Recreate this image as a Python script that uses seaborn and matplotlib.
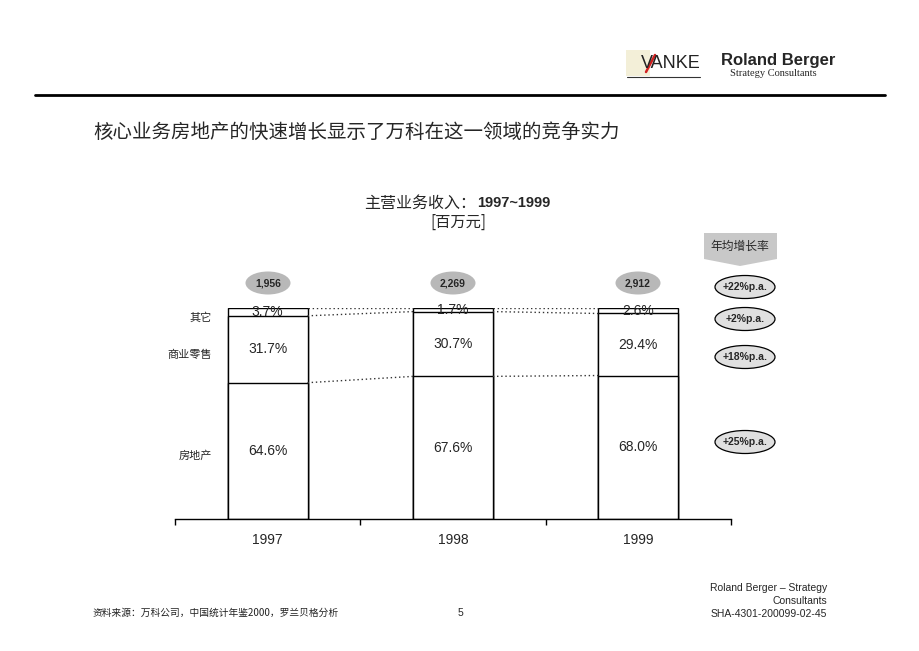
import matplotlib
matplotlib.use("Agg")
import matplotlib.pyplot as plt
import seaborn as sns
import numpy as np
import pandas as pd
from matplotlib.patches import Ellipse, Polygon, Rectangle

# ---------------- data ----------------
years = ["1997", "1998", "1999"]
totals = ["1,956", "2,269", "2,912"]
real_estate = [64.6, 67.6, 68.0]
retail = [31.7, 30.7, 29.4]
other = [3.7, 1.7, 2.6]
segment_names = ["房地产", "商业零售", "其它"]
growth_labels = ["+25%p.a.", "+18%p.a.", "+2%p.a.", "+22%p.a."]

sns.set_theme(style="white")
plt.rcParams["font.family"] = ["Liberation Sans", "Noto Sans CJK SC", "DejaVu Sans"]
CJK = ["Noto Sans CJK SC", "DejaVu Sans"]

W, H = 920, 651
fig = plt.figure(figsize=(9.2, 6.51), dpi=100)
fig.patch.set_facecolor("white")

# main axes (positions in pixels)
x0, x1, y_bot, y_top = 175, 731, 519, 308
ax = fig.add_axes([x0 / W, 1 - y_bot / H, (x1 - x0) / W, (y_bot - y_top) / H])
ax.set_facecolor("none")

df = pd.DataFrame({"year": years, "re": real_estate, "rt": retail, "ot": other})
df["c1"] = df["re"]
df["c2"] = df["re"] + df["rt"]
df["c3"] = df["c2"] + df["ot"]

bw = 0.43
for col in ["c3", "c2", "c1"]:
    sns.barplot(data=df, x="year", y=col, order=years, color="white",
                edgecolor="black", linewidth=1.0, width=bw, saturation=1,
                ax=ax, errorbar=None)

ax.set_xlim(-0.5, 2.5)
ax.set_ylim(0, 100)
for s in ["top", "right", "left"]:
    ax.spines[s].set_visible(False)
ax.spines["bottom"].set_color("black")
ax.spines["bottom"].set_linewidth(1.0)
ax.set_yticks([])
ax.set_xlabel("")
ax.set_ylabel("")
ax.set_xticks(range(len(years)))
ax.set_xticklabels(years, fontsize=10)
ax.set_xticks(np.arange(-0.5, len(years), 1.0), minor=True)
ax.tick_params(axis="x", which="major", length=0, pad=10)
ax.tick_params(axis="x", which="minor", length=4, width=1, direction="out",
               color="black", bottom=True)

# dotted connectors
for i in range(len(years) - 1):
    for col in ["c1", "c2", "c3"]:
        ax.plot([i + bw / 2, i + 1 - bw / 2], [df[col][i], df[col][i + 1]],
                linestyle=(0, (1, 2)), color="#333333", linewidth=1.0)

# percent labels
for i in range(len(years)):
    ax.text(i, df["re"][i] / 2, f"{real_estate[i]:.1f}%", ha="center", va="center", fontsize=10)
    ax.text(i, (df["c1"][i] + df["c2"][i]) / 2, f"{retail[i]:.1f}%", ha="center", va="center", fontsize=10)
    ax.text(i, (df["c2"][i] + df["c3"][i]) / 2, f"{other[i]:.1f}%", ha="center", va="center", fontsize=10)

# ------------- overlay axes in pixel coords -------------
ov = fig.add_axes([0, 0, 1, 1])
ov.set_xlim(0, W)
ov.set_ylim(H, 0)
ov.axis("off")
ov.set_facecolor("none")

# header rule
ov.plot([35, 885], [95, 95], color="black", linewidth=2)

# logos
ov.add_patch(Rectangle((626, 50), 24, 26, facecolor="#f3efd8", edgecolor="none"))
ov.text(671, 64, "VANKE", fontsize=13, ha="center", va="center", color="#222222",
        family=["Liberation Sans"])
ov.plot([646, 655], [72, 55], color="#d02020", linewidth=1.8)
ov.plot([627, 700], [77, 77], color="#333333", linewidth=0.8)
ov.text(778, 61, "Roland Berger", fontsize=12, fontweight="bold", ha="center", va="center",
        family=["Liberation Sans Narrow", "Liberation Sans"])
ov.text(773, 74, "Strategy Consultants", fontsize=7.5, ha="center", va="center",
        family=["Liberation Serif"])

# title
ov.text(93, 132, "核心业务房地产的快速增长显示了万科在这一领域的竞争实力", fontsize=14,
        ha="left", va="center", family=CJK)

# chart title
ov.text(476, 203, "主营业务收入：", fontsize=11.5, ha="right", va="center", family=CJK)
ov.text(477, 203, "1997~1999", fontsize=10.5, ha="left", va="center", fontweight="bold")
ov.text(458, 222, "[百万元]", fontsize=11, ha="center", va="center", family=CJK)

# total ellipses above bars
bar_px = [268, 453, 638]
for xc, t in zip(bar_px, totals):
    ov.add_patch(Ellipse((xc, 283), 45, 23, facecolor="#b8b8b8", edgecolor="none"))
    ov.text(xc, 283, t, fontsize=7.5, fontweight="bold", ha="center", va="center")

# segment names on the left
seg_y = [456, 355, 318]
for name, yy in zip(segment_names, seg_y):
    ov.text(212, yy, name, fontsize=8, ha="right", va="center", family=CJK)

# growth header
ov.add_patch(Polygon([(704, 233), (777, 233), (777, 259), (740, 266), (704, 259)],
                     closed=True, facecolor="#c8c8c8", edgecolor="none"))
ov.text(740, 246, "年均增长率", fontsize=8.5, ha="center", va="center", family=CJK)

growth_y = [442, 357, 319, 287]
for lab, yy in zip(growth_labels, growth_y):
    ov.add_patch(Ellipse((745, yy), 60, 23, facecolor="#e0e0e0", edgecolor="black", linewidth=0.9))
    ov.text(745, yy, lab, fontsize=7.5, fontweight="bold", ha="center", va="center")

# footer
ov.text(93, 613, "资料来源：万科公司，中国统计年鉴2000，罗兰贝格分析", fontsize=7,
        ha="left", va="center", family=CJK, color="#222222")
ov.text(460, 613, "5", fontsize=7.5, ha="center", va="center")
ov.text(827, 588, "Roland Berger – Strategy", fontsize=7.5, ha="right", va="center")
ov.text(827, 601, "Consultants", fontsize=7.5, ha="right", va="center")
ov.text(827, 614, "SHA-4301-200099-02-45", fontsize=7.5, ha="right", va="center")

fig.savefig("out.png", dpi=100, facecolor="white")
